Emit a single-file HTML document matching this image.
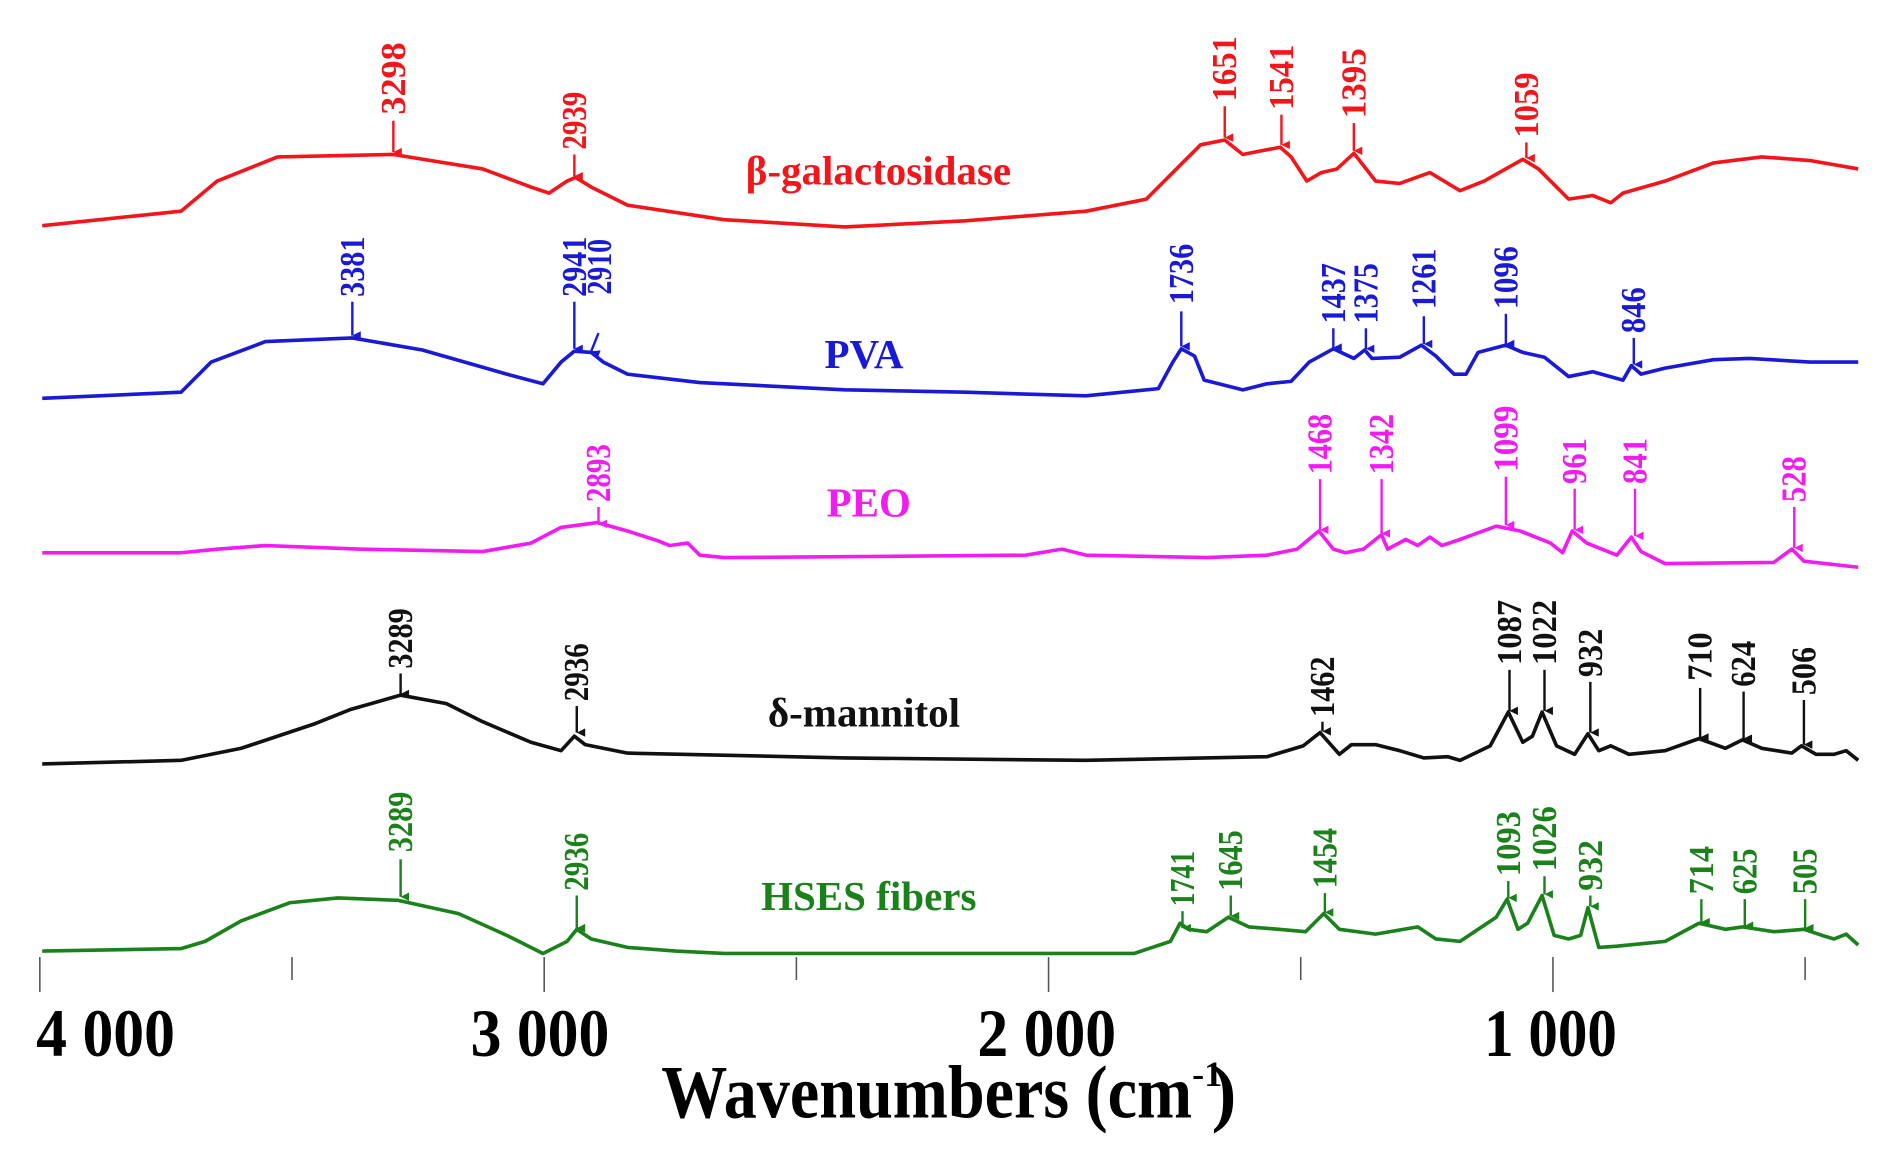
<!DOCTYPE html>
<html><head><meta charset="utf-8"><style>
html,body{margin:0;padding:0;background:#fff;}
svg{display:block}
text{font-family:"Liberation Serif",serif;font-weight:bold;}
</style></head><body>
<svg width="1892" height="1155" viewBox="0 0 1568 957" preserveAspectRatio="none" xmlns="http://www.w3.org/2000/svg">
<defs>
<marker id="ar" viewBox="0 0 10 10" refX="5" refY="10" markerWidth="7" markerHeight="10" orient="auto-start-reverse" markerUnits="userSpaceOnUse"><path d="M0,0 L10,0 L5,10 Z" fill="context-stroke"/></marker>
</defs>
<g fill="none" stroke-width="3" stroke-linejoin="round">
<polyline stroke="#f2161b" points="35,187 150,175 180,150 230,130 326,128 400,140 440,155 455,160 470,150 477,147 490,155 520,170 600,182 700,188 800,183 900,175 950,165 975,140 995,120 1015,116 1030,128 1045,125 1061,122 1070,130 1083,150 1095,143 1108,140 1122,127 1140,150 1160,152 1185,143 1210,158 1230,150 1262,132 1275,140 1300,165 1320,162 1335,168 1345,160 1380,150 1420,135 1460,130 1500,133 1540,140"/>
<polyline stroke="#1a1ad6" points="35,330 150,325 175,300 220,283 292,280 350,290 420,310 450,318 465,300 476,291 490,292 500,300 520,310 580,317 700,323 800,325 900,328 960,322 972,300 979,289 990,295 998,315 1010,318 1030,323 1050,318 1070,316 1085,300 1105,289 1122,297 1131,290 1137,297 1160,296 1178,286 1190,295 1205,310 1215,310 1225,292 1248,286 1262,292 1280,296 1300,312 1320,308 1345,315 1352,303 1360,310 1380,305 1420,298 1450,297 1500,300 1540,300"/>
<polyline stroke="#f01cf0" points="35,458 150,458 180,455 220,452 300,455 400,457 440,450 465,437 495,433 520,440 545,448 555,452 570,450 580,460 600,462 850,460 880,455 900,460 1000,462 1050,460 1075,455 1093,440 1105,455 1115,458 1130,455 1145,443 1150,455 1165,447 1175,452 1185,445 1195,452 1210,447 1240,436 1260,440 1285,450 1295,458 1303,440 1315,450 1340,460 1352,445 1360,457 1380,467 1470,466 1485,455 1495,465 1540,470"/>
<polyline stroke="#111" points="35,633 150,630 200,620 260,600 290,588 332,576 370,583 400,598 440,615 465,622 476,610 485,617 520,624 700,628 900,630 1050,627 1080,618 1094,607 1110,625 1120,617 1140,617 1160,622 1180,628 1200,627 1210,630 1235,618 1250,590 1262,615 1270,610 1278,590 1290,618 1305,625 1316,608 1325,622 1335,618 1350,625 1380,622 1408,612 1430,620 1444,613 1460,620 1485,624 1493,618 1505,625 1520,625 1530,622 1540,630"/>
<polyline stroke="#1b821b" points="35,788 150,786 170,780 200,763 240,748 280,744 330,746 380,757 420,775 450,790 470,780 478,770 490,778 520,785 560,788 600,790 940,790 970,780 978,765 985,770 1000,772 1018,760 1035,768 1060,770 1082,772 1097,757 1110,770 1140,774 1175,768 1190,778 1210,780 1225,770 1240,760 1249,745 1258,770 1266,765 1278,742 1288,775 1300,778 1310,775 1316,752 1325,785 1340,784 1380,780 1408,765 1430,770 1444,768 1470,772 1495,770 1510,775 1520,778 1530,774 1540,783"/>
</g>
<g stroke="#555" stroke-width="1.3">
<line x1="33" y1="793" x2="33" y2="822"/><line x1="242" y1="793" x2="242" y2="812"/>
<line x1="451" y1="793" x2="451" y2="822"/><line x1="660" y1="793" x2="660" y2="812"/>
<line x1="869" y1="793" x2="869" y2="822"/><line x1="1078" y1="793" x2="1078" y2="812"/>
<line x1="1287" y1="793" x2="1287" y2="822"/><line x1="1496" y1="793" x2="1496" y2="812"/>
</g>
<g font-size="56" fill="#000">
<text x="30" y="875" textLength="115" lengthAdjust="spacingAndGlyphs">4 000</text>
<text x="390" y="875" textLength="115" lengthAdjust="spacingAndGlyphs">3 000</text>
<text x="810" y="875" textLength="115" lengthAdjust="spacingAndGlyphs">2 000</text>
<text x="1230" y="875" textLength="110" lengthAdjust="spacingAndGlyphs">1 000</text>
<text x="548" y="926" font-size="62" textLength="440" lengthAdjust="spacingAndGlyphs">Wavenumbers (cm</text>
<text x="988" y="900" font-size="30">-1</text>
<text x="1004" y="926" font-size="62">)</text>
</g>
<g font-size="34" text-anchor="middle">
<text x="728" y="153" fill="#f2161b">β-galactosidase</text>
<text x="716" y="305" fill="#1a1ad6">PVA</text>
<text x="720" y="428" fill="#f01cf0">PEO</text>
<text x="716" y="602" fill="#111">δ-mannitol</text>
<text x="720" y="754" fill="#1b821b">HSES fibers</text>
</g>
<g id="labels" font-size="29">
<g fill="#f2161b" stroke="#f2161b" stroke-width="2">
<line x1="326" y1="100" x2="326" y2="126" marker-end="url(#ar)"/><text stroke="none" transform="translate(335.5,95) rotate(-90)" textLength="60" lengthAdjust="spacingAndGlyphs">3298</text>
<line x1="476" y1="128" x2="476" y2="146" marker-end="url(#ar)"/><text stroke="none" transform="translate(485.5,124) rotate(-90)" textLength="48" lengthAdjust="spacingAndGlyphs">2939</text>
<line x1="1015" y1="88" x2="1015" y2="114" marker-end="url(#ar)"/><text stroke="none" transform="translate(1024.5,84) rotate(-90)" textLength="54" lengthAdjust="spacingAndGlyphs">1651</text>
<line x1="1062" y1="95" x2="1062" y2="120" marker-end="url(#ar)"/><text stroke="none" transform="translate(1071.5,91) rotate(-90)" textLength="54" lengthAdjust="spacingAndGlyphs">1541</text>
<line x1="1122" y1="102" x2="1122" y2="125" marker-end="url(#ar)"/><text stroke="none" transform="translate(1131.5,98) rotate(-90)" textLength="58" lengthAdjust="spacingAndGlyphs">1395</text>
<line x1="1265" y1="118" x2="1265" y2="131" marker-end="url(#ar)"/><text stroke="none" transform="translate(1274.5,114) rotate(-90)" textLength="54" lengthAdjust="spacingAndGlyphs">1059</text>
</g>
<g fill="#1a1ad6" stroke="#1a1ad6" stroke-width="2">
<line x1="292" y1="250" x2="292" y2="278" marker-end="url(#ar)"/><text stroke="none" transform="translate(301.5,246) rotate(-90)" textLength="50" lengthAdjust="spacingAndGlyphs">3381</text>
<line x1="476" y1="250" x2="476" y2="289" marker-end="url(#ar)"/><text stroke="none" transform="translate(485.5,246) rotate(-90)" textLength="50" lengthAdjust="spacingAndGlyphs">2941</text>
<line x1="496" y1="276" x2="490" y2="291" marker-end="url(#ar)"/><text stroke="none" transform="translate(506.5,244) rotate(-90)" textLength="46" lengthAdjust="spacingAndGlyphs">2910</text>
<line x1="979" y1="258" x2="979" y2="287" marker-end="url(#ar)"/><text stroke="none" transform="translate(988.5,252) rotate(-90)" textLength="50" lengthAdjust="spacingAndGlyphs">1736</text>
<line x1="1105" y1="272" x2="1105" y2="288" marker-end="url(#ar)"/><text stroke="none" transform="translate(1114.5,268) rotate(-90)" textLength="50" lengthAdjust="spacingAndGlyphs">1437</text>
<line x1="1132" y1="272" x2="1132" y2="289" marker-end="url(#ar)"/><text stroke="none" transform="translate(1141.5,268) rotate(-90)" textLength="50" lengthAdjust="spacingAndGlyphs">1375</text>
<line x1="1180" y1="262" x2="1180" y2="285" marker-end="url(#ar)"/><text stroke="none" transform="translate(1189.5,256) rotate(-90)" textLength="50" lengthAdjust="spacingAndGlyphs">1261</text>
<line x1="1248" y1="260" x2="1248" y2="285" marker-end="url(#ar)"/><text stroke="none" transform="translate(1257.5,256) rotate(-90)" textLength="52" lengthAdjust="spacingAndGlyphs">1096</text>
<line x1="1354" y1="280" x2="1354" y2="302" marker-end="url(#ar)"/><text stroke="none" transform="translate(1363.5,276) rotate(-90)" textLength="38" lengthAdjust="spacingAndGlyphs">846</text>
</g>
<g fill="#f01cf0" stroke="#f01cf0" stroke-width="2">
<line x1="496" y1="420" x2="496" y2="434" marker-end="url(#ar)"/><text stroke="none" transform="translate(505.5,416) rotate(-90)" textLength="48" lengthAdjust="spacingAndGlyphs">2893</text>
<line x1="1094" y1="397" x2="1094" y2="439" marker-end="url(#ar)"/><text stroke="none" transform="translate(1103.5,393) rotate(-90)" textLength="50" lengthAdjust="spacingAndGlyphs">1468</text>
<line x1="1145" y1="397" x2="1145" y2="442" marker-end="url(#ar)"/><text stroke="none" transform="translate(1154.5,393) rotate(-90)" textLength="50" lengthAdjust="spacingAndGlyphs">1342</text>
<line x1="1248" y1="395" x2="1248" y2="435" marker-end="url(#ar)"/><text stroke="none" transform="translate(1257.5,391) rotate(-90)" textLength="55" lengthAdjust="spacingAndGlyphs">1099</text>
<line x1="1305" y1="405" x2="1305" y2="439" marker-end="url(#ar)"/><text stroke="none" transform="translate(1314.5,401) rotate(-90)" textLength="38" lengthAdjust="spacingAndGlyphs">961</text>
<line x1="1355" y1="405" x2="1355" y2="444" marker-end="url(#ar)"/><text stroke="none" transform="translate(1364.5,401) rotate(-90)" textLength="38" lengthAdjust="spacingAndGlyphs">841</text>
<line x1="1487" y1="420" x2="1487" y2="454" marker-end="url(#ar)"/><text stroke="none" transform="translate(1496.5,416) rotate(-90)" textLength="38" lengthAdjust="spacingAndGlyphs">528</text>
</g>
<g fill="#111" stroke="#111" stroke-width="2">
<line x1="332" y1="558" x2="332" y2="575" marker-end="url(#ar)"/><text stroke="none" transform="translate(341.5,554) rotate(-90)" textLength="50" lengthAdjust="spacingAndGlyphs">3289</text>
<line x1="478" y1="585" x2="478" y2="607" marker-end="url(#ar)"/><text stroke="none" transform="translate(487.5,581) rotate(-90)" textLength="48" lengthAdjust="spacingAndGlyphs">2936</text>
<line x1="1096" y1="598" x2="1096" y2="606" marker-end="url(#ar)"/><text stroke="none" transform="translate(1105.5,594) rotate(-90)" textLength="50" lengthAdjust="spacingAndGlyphs">1462</text>
<line x1="1251" y1="555" x2="1251" y2="589" marker-end="url(#ar)"/><text stroke="none" transform="translate(1260.5,551) rotate(-90)" textLength="54" lengthAdjust="spacingAndGlyphs">1087</text>
<line x1="1280" y1="555" x2="1280" y2="589" marker-end="url(#ar)"/><text stroke="none" transform="translate(1289.5,551) rotate(-90)" textLength="54" lengthAdjust="spacingAndGlyphs">1022</text>
<line x1="1318" y1="565" x2="1318" y2="607" marker-end="url(#ar)"/><text stroke="none" transform="translate(1327.5,561) rotate(-90)" textLength="40" lengthAdjust="spacingAndGlyphs">932</text>
<line x1="1409" y1="570" x2="1409" y2="611" marker-end="url(#ar)"/><text stroke="none" transform="translate(1418.5,564) rotate(-90)" textLength="40" lengthAdjust="spacingAndGlyphs">710</text>
<line x1="1445" y1="573" x2="1445" y2="612" marker-end="url(#ar)"/><text stroke="none" transform="translate(1454.5,569) rotate(-90)" textLength="38" lengthAdjust="spacingAndGlyphs">624</text>
<line x1="1495" y1="580" x2="1495" y2="617" marker-end="url(#ar)"/><text stroke="none" transform="translate(1504.5,576) rotate(-90)" textLength="40" lengthAdjust="spacingAndGlyphs">506</text>
</g>
<g fill="#1b821b" stroke="#1b821b" stroke-width="2">
<line x1="332" y1="712" x2="332" y2="743" marker-end="url(#ar)"/><text stroke="none" transform="translate(341.5,706) rotate(-90)" textLength="50" lengthAdjust="spacingAndGlyphs">3289</text>
<line x1="478" y1="742" x2="478" y2="769" marker-end="url(#ar)"/><text stroke="none" transform="translate(487.5,738) rotate(-90)" textLength="48" lengthAdjust="spacingAndGlyphs">2936</text>
<line x1="980" y1="755" x2="980" y2="769" marker-end="url(#ar)"/><text stroke="none" transform="translate(989.5,751) rotate(-90)" textLength="46" lengthAdjust="spacingAndGlyphs">1741</text>
<line x1="1020" y1="742" x2="1020" y2="759" marker-end="url(#ar)"/><text stroke="none" transform="translate(1029.5,738) rotate(-90)" textLength="50" lengthAdjust="spacingAndGlyphs">1645</text>
<line x1="1098" y1="740" x2="1098" y2="756" marker-end="url(#ar)"/><text stroke="none" transform="translate(1107.5,736) rotate(-90)" textLength="50" lengthAdjust="spacingAndGlyphs">1454</text>
<line x1="1250" y1="730" x2="1250" y2="744" marker-end="url(#ar)"/><text stroke="none" transform="translate(1259.5,726) rotate(-90)" textLength="54" lengthAdjust="spacingAndGlyphs">1093</text>
<line x1="1280" y1="726" x2="1280" y2="741" marker-end="url(#ar)"/><text stroke="none" transform="translate(1289.5,722) rotate(-90)" textLength="54" lengthAdjust="spacingAndGlyphs">1026</text>
<line x1="1318" y1="742" x2="1318" y2="751" marker-end="url(#ar)"/><text stroke="none" transform="translate(1327.5,738) rotate(-90)" textLength="42" lengthAdjust="spacingAndGlyphs">932</text>
<line x1="1410" y1="745" x2="1410" y2="764" marker-end="url(#ar)"/><text stroke="none" transform="translate(1419.5,741) rotate(-90)" textLength="40" lengthAdjust="spacingAndGlyphs">714</text>
<line x1="1446" y1="745" x2="1446" y2="767" marker-end="url(#ar)"/><text stroke="none" transform="translate(1455.5,741) rotate(-90)" textLength="38" lengthAdjust="spacingAndGlyphs">625</text>
<line x1="1496" y1="745" x2="1496" y2="769" marker-end="url(#ar)"/><text stroke="none" transform="translate(1505.5,741) rotate(-90)" textLength="38" lengthAdjust="spacingAndGlyphs">505</text>
</g>
</g>
</svg>
</body></html>
